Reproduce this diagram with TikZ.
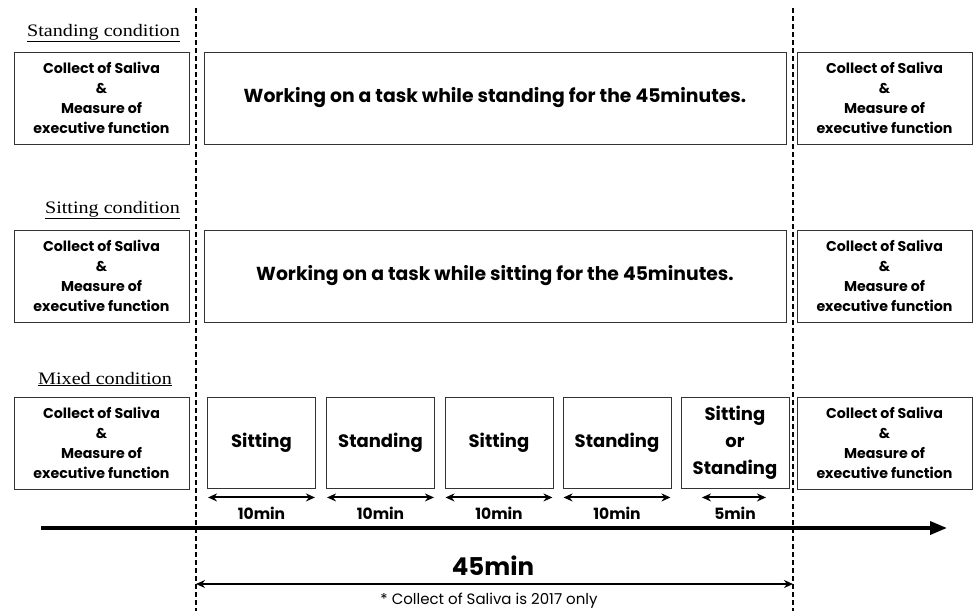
\documentclass[tikz,border=0pt]{standalone}
\usepackage{fontspec}
\setmainfont[FakeStretch=1.15]{Liberation Serif}
\newfontfamily\gothic{Poppins}
\usetikzlibrary{arrows.meta}
\tikzset{
  boxst/.style={draw=black!80, line width=0.9pt, align=center, inner sep=0pt, font=\gothic\bfseries},
  sidebox/.style={boxst, minimum width=175pt, minimum height=92pt, font=\gothic\bfseries\fontsize{14.2}{20}\selectfont},
  taskbox/.style={boxst, minimum width=582pt, minimum height=92pt, font=\gothic\bfseries\fontsize{18.8}{22}\selectfont},
  smallbox/.style={boxst, minimum width=108pt, minimum height=91pt, font=\gothic\bfseries\fontsize{18}{27}\selectfont},
  condlabel/.style={anchor=base east, inner sep=0pt, font=\fontsize{17.5}{20}\selectfont},
  dimarrow/.style={line width=2pt, {Stealth[length=9pt,width=8pt]}-{Stealth[length=9pt,width=8pt]}},
  minlabel/.style={inner sep=0pt, font=\gothic\bfseries\fontsize{15.5}{17}\selectfont},
  dashline/.style={line width=1.4pt, dash pattern=on 5pt off 3pt},
}
\begin{document}
\begin{tikzpicture}[x=1pt,y=-1pt]
\useasboundingbox (0,0) rectangle (974,611);
% dashed separators
\coordinate (d1a) at (196,8);
\coordinate (d1b) at (196,611);
\coordinate (d2a) at (793,8);
\coordinate (d2b) at (793,611);
\draw[dashline] (d1a) -- (d1b);
\draw[dashline] (d2a) -- (d2b);

% Standing condition
\node[condlabel] (l1) at (180,36) {\underline{Standing condition}};
\node[sidebox] (a1) at (101.5,98) {Collect of Saliva\\\&\\Measure of\\executive function};
\node[taskbox] (m1) at (495,98) {Working on a task while standing for the 45minutes.};
\node[sidebox] (c1) at (884.5,98) {Collect of Saliva\\\&\\Measure of\\executive function};

% Sitting condition
\node[condlabel] (l2) at (180,213) {\underline{Sitting condition}};
\node[sidebox] (a2) at (101.5,276) {Collect of Saliva\\\&\\Measure of\\executive function};
\node[taskbox] (m2) at (495,276) {Working on a task while sitting for the 45minutes.};
\node[sidebox] (c2) at (884.5,276) {Collect of Saliva\\\&\\Measure of\\executive function};

% Mixed condition
\node[condlabel] (l3) at (172,384) {\underline{Mixed condition}};
\node[sidebox] (a3) at (101.5,443) {Collect of Saliva\\\&\\Measure of\\executive function};
\node[smallbox] (b1) at (261.5,443) {Sitting};
\node[smallbox] (b2) at (380.5,443) {Standing};
\node[smallbox] (b3) at (499,443) {Sitting};
\node[smallbox] (b4) at (617,443) {Standing};
\node[smallbox] (b5) at (735,443) {Sitting\\or\\Standing};
\node[sidebox] (c3) at (884.5,443) {Collect of Saliva\\\&\\Measure of\\executive function};

% duration arrows
\foreach \b in {b1,b2,b3,b4}{
  \draw[dimarrow] ([xshift=1pt,yshift=-8.5pt]\b.south west) -- ([xshift=-1pt,yshift=-8.5pt]\b.south east);
  \node[minlabel] (\b t) at ([yshift=-24pt]\b.south) {10min};
}
\draw[dimarrow] ([xshift=-33pt,yshift=-8.5pt]b5.south) -- ([xshift=31pt,yshift=-8.5pt]b5.south);
\node[minlabel] (b5t) at ([yshift=-24pt]b5.south) {5min};

% timeline
\coordinate (t0) at (41,528);
\coordinate (t1) at (947,528);
\draw[line width=3.6pt, -{Triangle[length=17pt,width=13pt]}] (t0) -- (t1);

% total duration
\coordinate (e0) at (196,584);
\coordinate (e1) at (793,584);
\draw[dimarrow] (e0) -- (e1);
\node[inner sep=0pt, font=\gothic\bfseries\fontsize{24.5}{28}\selectfont] (tot) at (493,566) {45min};
\node[inner sep=0pt, font=\gothic\fontsize{15}{17}\selectfont] (fn) at (489,601) {* Collect of Saliva is 2017 only};
\end{tikzpicture}
\end{document}
